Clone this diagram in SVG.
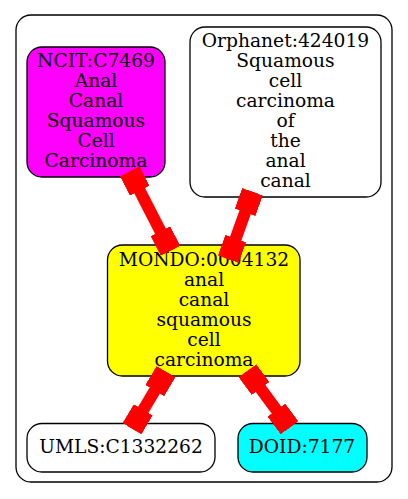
<svg xmlns="http://www.w3.org/2000/svg" width="408" height="499" viewBox="0 0 408 499">
<style>
.cluster{fill:#ffffff;stroke:#000000;stroke-width:1.3}
.node rect{stroke:#000000;stroke-width:1.3}
.node text{font-family:"DejaVu Serif","Liberation Serif",serif;font-size:18.67px;fill:#000000;text-anchor:middle}
.edge{fill:none;stroke:#ff0000;stroke-width:12;marker-start:url(#box);marker-end:url(#box)}
</style>
<defs>
<marker id="box" markerUnits="userSpaceOnUse" viewBox="0 0 22 22" refX="22" refY="11" markerWidth="22" markerHeight="22" orient="auto-start-reverse">
<rect x="0" y="0" width="22" height="22" fill="#ff0000"/>
</marker>
</defs>
<rect fill="#ffffff" x="0" y="0" width="408" height="499"/>
<rect class="cluster" x="16" y="15" width="376" height="467" rx="15" ry="15"/>
<g id="node-ncit" class="node">
<rect x="27" y="47" width="138" height="130" rx="15" ry="15" fill="#ff00ff"/>
<text x="96" y="66.7">NCIT:C7469</text>
<text x="96" y="86.7">Anal</text>
<text x="96" y="106.7">Canal</text>
<text x="96" y="126.7">Squamous</text>
<text x="96" y="146.7">Cell</text>
<text x="96" y="166.7">Carcinoma</text>
</g>
<g id="node-orphanet" class="node">
<rect x="190" y="27" width="191" height="170" rx="15" ry="15" fill="#ffffff"/>
<text x="285.5" y="46.7">Orphanet:424019</text>
<text x="285.5" y="66.7">Squamous</text>
<text x="285.5" y="86.7">cell</text>
<text x="285.5" y="106.7">carcinoma</text>
<text x="285.5" y="126.7">of</text>
<text x="285.5" y="146.7">the</text>
<text x="285.5" y="166.7">anal</text>
<text x="285.5" y="186.7">canal</text>
</g>
<g id="node-mondo" class="node">
<rect x="107.5" y="245" width="192.5" height="131" rx="15" ry="15" fill="#ffff00"/>
<text x="204" y="265.7">MONDO:0004132</text>
<text x="204" y="285.7">anal</text>
<text x="204" y="305.7">canal</text>
<text x="204" y="325.7">squamous</text>
<text x="204" y="345.7">cell</text>
<text x="204" y="365.7">carcinoma</text>
</g>
<g id="node-umls" class="node">
<rect x="27" y="423.5" width="188" height="48.5" rx="15" ry="15" fill="#ffffff"/>
<text x="121" y="453.3">UMLS:C1332262</text>
</g>
<g id="node-doid" class="node">
<rect x="238" y="423.5" width="129" height="48.5" rx="15" ry="15" fill="#00ffff"/>
<text x="302" y="453.3">DOID:7177</text>
</g>
<g id="edges">
<path id="e1" class="edge" d="M129.7,171.2 L170.5,250.8"/>
<path id="e2" class="edge" d="M252.5,191.7 L228.3,259.2"/>
<path id="e3" class="edge" d="M166,371.7 L132,428.7"/>
<path id="e4" class="edge" d="M247.5,370.8 L289.5,427.8"/>
</g>
</svg>
